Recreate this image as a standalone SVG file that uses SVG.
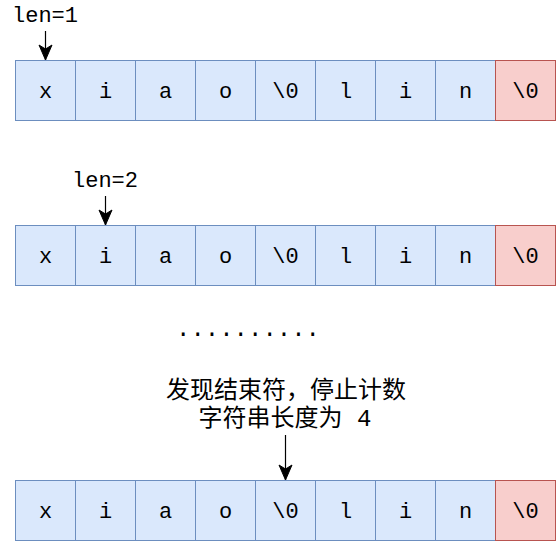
<svg xmlns="http://www.w3.org/2000/svg" width="557" height="542" viewBox="0 0 557 542">
<style>
.c{fill:#dae8fc;stroke:#6c8ebf;stroke-width:1}
.e{fill:#f8cecc;stroke:#b85450;stroke-width:1}
.t{font-family:"Liberation Mono","Courier New",monospace;font-size:22px;fill:#000;text-anchor:middle}
.z{font-family:"Liberation Mono","Noto Sans CJK SC",monospace;font-size:24px;fill:#000;text-anchor:middle}
.a{stroke:#000;stroke-width:1.2;fill:none}
</style>
<defs>
<marker id="ah" markerUnits="userSpaceOnUse" refX="0" refY="0" markerWidth="20" markerHeight="20" orient="auto" overflow="visible">
<path d="M0,0 L-15,-6.5 L-11,0 L-15,6.5 Z" fill="#000" stroke="#000" stroke-width="1"/>
</marker>
</defs>
<rect width="557" height="542" fill="#fff"/>
<g id="connectors">
<line class="a" x1="45.5" y1="31" x2="45.5" y2="60" marker-end="url(#ah)"/>
<line class="a" x1="105.5" y1="196" x2="105.5" y2="225" marker-end="url(#ah)"/>
<line class="a" x1="285.5" y1="435" x2="285.5" y2="480" marker-end="url(#ah)"/>
</g>
<g id="label-len1"><text class="t" x="45" y="22">len=1</text></g>
<g id="label-len2"><text class="t" x="105" y="187">len=2</text></g>
<g id="dots"><text class="z" x="248" y="336">..........</text></g>
<g id="label-found"><text class="z" x="286" y="398">发现结束符，停止计数</text><text class="z" x="285" y="426">字符串长度为 4</text></g>
<g id="row1">
<rect class="c" x="15.5" y="60.5" width="60" height="60"/><text class="t" x="45.5" y="98">x</text>
<rect class="c" x="75.5" y="60.5" width="60" height="60"/><text class="t" x="105.5" y="98">i</text>
<rect class="c" x="135.5" y="60.5" width="60" height="60"/><text class="t" x="165.5" y="98">a</text>
<rect class="c" x="195.5" y="60.5" width="60" height="60"/><text class="t" x="225.5" y="98">o</text>
<rect class="c" x="255.5" y="60.5" width="60" height="60"/><text class="t" x="285.5" y="98">\0</text>
<rect class="c" x="315.5" y="60.5" width="60" height="60"/><text class="t" x="345.5" y="98">l</text>
<rect class="c" x="375.5" y="60.5" width="60" height="60"/><text class="t" x="405.5" y="98">i</text>
<rect class="c" x="435.5" y="60.5" width="60" height="60"/><text class="t" x="465.5" y="98">n</text>
<rect class="e" x="495.5" y="60.5" width="60" height="60"/><text class="t" x="525.5" y="98">\0</text>
</g>
<g id="row2">
<rect class="c" x="15.5" y="225.5" width="60" height="60"/><text class="t" x="45.5" y="263">x</text>
<rect class="c" x="75.5" y="225.5" width="60" height="60"/><text class="t" x="105.5" y="263">i</text>
<rect class="c" x="135.5" y="225.5" width="60" height="60"/><text class="t" x="165.5" y="263">a</text>
<rect class="c" x="195.5" y="225.5" width="60" height="60"/><text class="t" x="225.5" y="263">o</text>
<rect class="c" x="255.5" y="225.5" width="60" height="60"/><text class="t" x="285.5" y="263">\0</text>
<rect class="c" x="315.5" y="225.5" width="60" height="60"/><text class="t" x="345.5" y="263">l</text>
<rect class="c" x="375.5" y="225.5" width="60" height="60"/><text class="t" x="405.5" y="263">i</text>
<rect class="c" x="435.5" y="225.5" width="60" height="60"/><text class="t" x="465.5" y="263">n</text>
<rect class="e" x="495.5" y="225.5" width="60" height="60"/><text class="t" x="525.5" y="263">\0</text>
</g>
<g id="row3">
<rect class="c" x="15.5" y="480.5" width="60" height="60"/><text class="t" x="45.5" y="518">x</text>
<rect class="c" x="75.5" y="480.5" width="60" height="60"/><text class="t" x="105.5" y="518">i</text>
<rect class="c" x="135.5" y="480.5" width="60" height="60"/><text class="t" x="165.5" y="518">a</text>
<rect class="c" x="195.5" y="480.5" width="60" height="60"/><text class="t" x="225.5" y="518">o</text>
<rect class="c" x="255.5" y="480.5" width="60" height="60"/><text class="t" x="285.5" y="518">\0</text>
<rect class="c" x="315.5" y="480.5" width="60" height="60"/><text class="t" x="345.5" y="518">l</text>
<rect class="c" x="375.5" y="480.5" width="60" height="60"/><text class="t" x="405.5" y="518">i</text>
<rect class="c" x="435.5" y="480.5" width="60" height="60"/><text class="t" x="465.5" y="518">n</text>
<rect class="e" x="495.5" y="480.5" width="60" height="60"/><text class="t" x="525.5" y="518">\0</text>
</g>
</svg>
